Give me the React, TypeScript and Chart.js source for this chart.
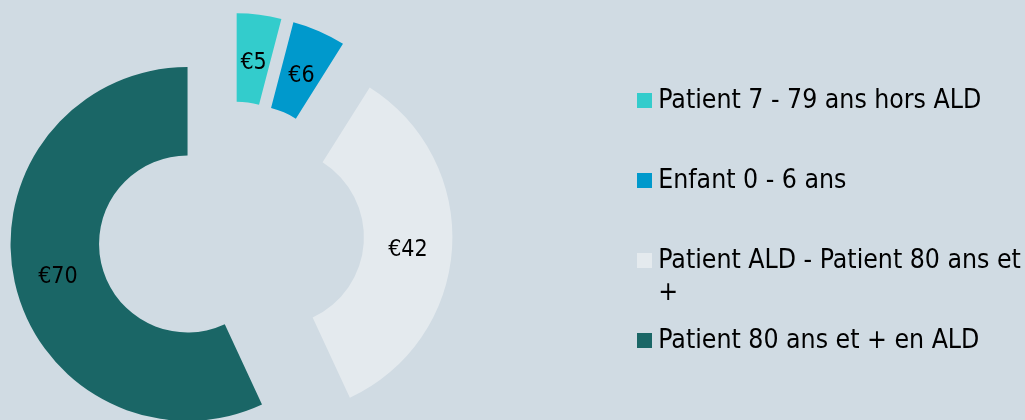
import React, { useEffect, useRef } from 'react';
import { Chart, registerables } from 'chart.js';

Chart.register(...registerables);

// ---- data ----
const categories = [
  'Patient 7 - 79 ans hors ALD',
  'Enfant 0 - 6 ans',
  'Patient ALD - Patient 80 ans et +',
  'Patient 80 ans et + en ALD',
];
const legendLines = [
  ['Patient 7 - 79 ans hors ALD', ''],
  ['Enfant 0 - 6 ans', ''],
  ['Patient ALD - Patient 80 ans et', '+'],
  ['Patient 80 ans et + en ALD', ''],
];
const values = [5, 6, 42, 70];
const valueLabels = ['€5', '€6', '€42', '€70'];

// ---- style ----
const colors = ['#33CCCC', '#0099CC', '#E4EAEE', '#1A6666'];
const BG = '#D0DBE3';
const FONT = "'DejaVu Sans Condensed', 'DejaVu Sans', sans-serif";
const EXPLODE = 44.5;
const SHIFT = 166; // canvas extends off-page to the left
const LABEL_DY = 4;

function swatch(color: string) {
  const c = document.createElement('canvas');
  c.width = 15;
  c.height = 15;
  const g = c.getContext('2d')!;
  g.fillStyle = color;
  g.fillRect(0, 0, 15, 15);
  return c;
}

const explodePlugin = {
  id: 'explodeAndLabels',
  beforeDatasetsDraw(chart: any) {
    const a = chart.chartArea;
    const cx = (a.left + a.right) / 2;
    const cy = (a.top + a.bottom) / 2;
    chart.getDatasetMeta(0).data.forEach((arc: any) => {
      const mid = (arc.startAngle + arc.endAngle) / 2;
      arc.x = cx + Math.cos(mid) * EXPLODE;
      arc.y = cy + Math.sin(mid) * EXPLODE;
    });
  },
  afterDatasetsDraw(chart: any) {
    const ctx = chart.ctx;
    ctx.save();
    ctx.font = `23px ${FONT}`;
    ctx.fillStyle = '#000000';
    ctx.textAlign = 'center';
    ctx.textBaseline = 'middle';
    chart.getDatasetMeta(0).data.forEach((arc: any, i: number) => {
      const p = arc.tooltipPosition(false);
      ctx.fillText(valueLabels[i], p.x, p.y + LABEL_DY);
    });
    ctx.restore();
  },
};

export default function App() {
  const ref = useRef<HTMLCanvasElement | null>(null);

  useEffect(() => {
    document.body.style.margin = '0';
    document.body.style.background = BG;
    const swatches = colors.map(swatch);
    const chart = new Chart(ref.current!, {
      type: 'doughnut',
      data: {
        labels: categories,
        datasets: [
          {
            data: values,
            backgroundColor: colors,
            borderWidth: 0,
            radius: 177,
            cutout: '50%',
          } as any,
        ],
      },
      options: {
        responsive: false,
        animation: false,
        events: [],
        layout: { padding: { left: 0, right: 0, top: 48.8, bottom: 0 } },
        plugins: {
          tooltip: { enabled: false },
          legend: {
            position: 'right',
            align: 'center',
            maxWidth: 397,
            title: { display: true, text: '', padding: 0, font: { size: 10, lineHeight: 1.02 } },
            labels: {
              color: '#000000',
              font: { family: FONT, size: 26.4, lineHeight: '32px' } as any,
              padding: 16,
              usePointStyle: true,
              pointStyleWidth: 1,
              boxHeight: 15,
              generateLabels: () =>
                values.map((_, i) => ({
                  text: legendLines[i] as any,
                  fillStyle: colors[i],
                  strokeStyle: colors[i],
                  fontColor: '#000000',
                  lineWidth: 0,
                  pointStyle: swatches[i] as any,
                  hidden: false,
                  index: i,
                })),
            },
          },
        },
      } as any,
      plugins: [explodePlugin],
    });
    return () => chart.destroy();
  }, []);

  return (
    <div
      style={{
        position: 'absolute',
        left: 0,
        top: 0,
        width: 1025,
        height: 420,
        background: BG,
        overflow: 'hidden',
      }}
    >
      <canvas
        ref={ref}
        width={1025 + SHIFT}
        height={420}
        style={{ display: 'block', position: 'absolute', left: -SHIFT, top: 0 }}
      />
    </div>
  );
}
